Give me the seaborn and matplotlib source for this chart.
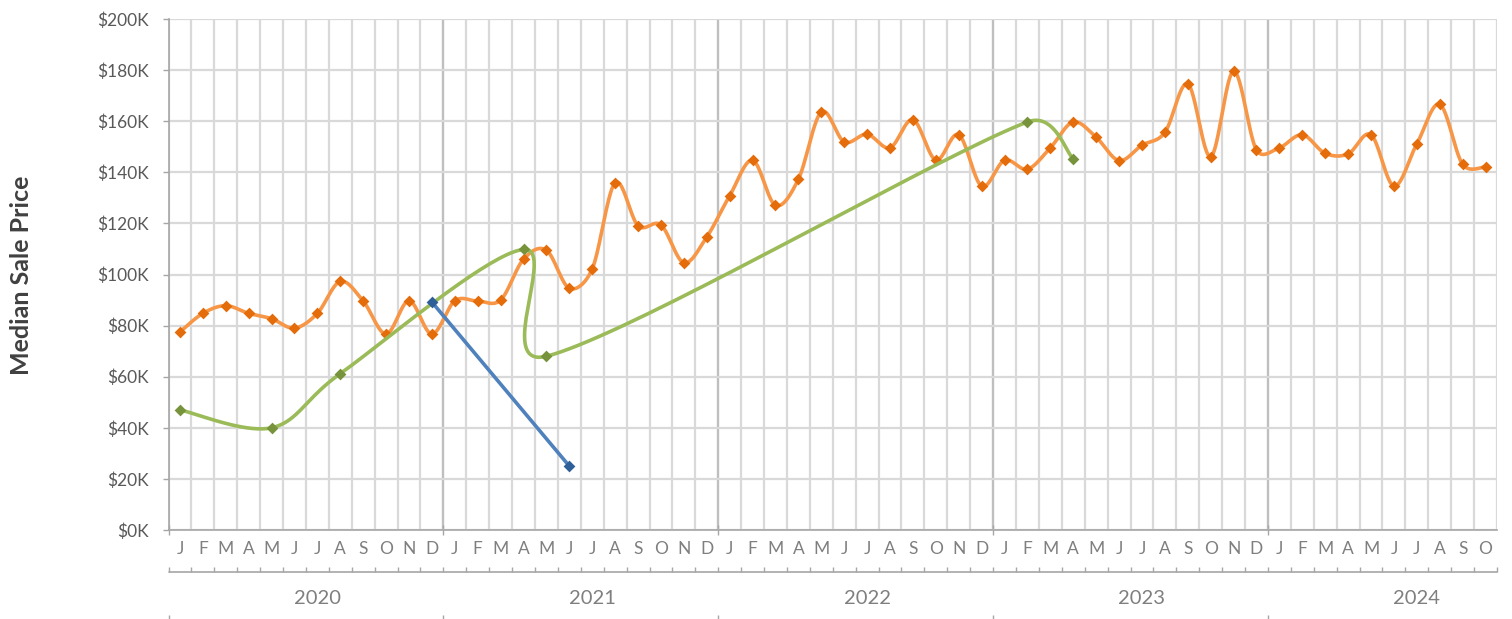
import numpy as np
import matplotlib
matplotlib.use('Agg')
import matplotlib.pyplot as plt
import seaborn as sns

# Data: monthly median sale price (in $K), Jan 2020 - Oct 2024
months = ['J', 'F', 'M', 'A', 'M', 'J', 'J', 'A', 'S', 'O', 'N', 'D'] * 4 + \
         ['J', 'F', 'M', 'A', 'M', 'J', 'J', 'A', 'S', 'O']
years = ['2020', '2021', '2022', '2023', '2024']

orange = [77.5, 84.8, 87.8, 84.8, 82.7, 79.0, 84.8, 97.3, 89.6, 76.7, 89.7, 76.7,
          89.7, 89.6, 90.0, 106.0, 109.5, 94.6, 102.2, 135.9, 119.1, 119.4, 104.6, 114.7,
          130.8, 144.7, 127.1, 137.3, 163.6, 151.9, 154.9, 149.6, 160.6, 144.8, 154.7, 134.6,
          144.7, 141.2, 149.6, 159.7, 153.7, 144.6, 150.6, 155.6, 174.6, 146.1, 179.6, 148.7,
          149.6, 154.7, 147.4, 147.2, 154.7, 134.6, 151.1, 166.6, 143.1, 142.1]

green = [None] * len(months)
green[0], green[4], green[7] = 47.0, 40.0, 61.2
green[15], green[16] = 109.8, 68.0
green[37], green[39] = 159.7, 145.3

blue = [None] * len(months)
blue[11], blue[17] = 89.2, 25.0

yticks = list(range(0, 201, 20))

sns.set_style('white')
plt.rcParams['font.family'] = ['Lato', 'DejaVu Sans']

fig = plt.figure(figsize=(15.12, 6.19), dpi=100)
ax = fig.add_axes([168.5 / 1512, 89 / 619, 1328.5 / 1512, 511 / 619])

n = len(months)
ax.set_xlim(-0.5, n - 0.5)
ax.set_ylim(0, 200)


def excel_smooth(ax, xs, ys, steps=40):
    # Excel-like smoothed line: bezier segments built in display space
    pts = ax.transData.transform(np.column_stack([xs, ys]))
    curve = [pts[0]]
    for i in range(len(pts) - 1):
        p0 = pts[i - 1] if i > 0 else pts[i]
        p1, p2 = pts[i], pts[i + 1]
        p3 = pts[i + 2] if i + 2 < len(pts) else pts[i + 1]
        d12 = np.hypot(*(p2 - p1))
        t1, t2 = p2 - p0, p3 - p1
        d02, d13 = np.hypot(*t1), np.hypot(*t2)
        f1 = 1 / 6 if d02 / 6 < d12 / 2 else d12 / (2 * d02)
        f2 = 1 / 6 if d13 / 6 < d12 / 2 else d12 / (2 * d13)
        c1 = p1 + f1 * t1
        c2 = p2 - f2 * t2
        t = np.linspace(0, 1, steps)[1:, None]
        seg = ((1 - t) ** 3) * p1 + 3 * t * (1 - t) ** 2 * c1 + 3 * t ** 2 * (1 - t) * c2 + t ** 3 * p2
        curve.extend(seg)
    curve = ax.transData.inverted().transform(np.array(curve))
    return curve[:, 0], curve[:, 1]


series = [(orange, '#F79646', '#E46C0A'),
          (green, '#9BBB59', '#77933C'),
          (blue, '#4F81BD', '#2F5F98')]

z = 3
for vals, line_c, mark_c in series:
    idx = np.array([i for i, v in enumerate(vals) if v is not None], dtype=float)
    v = np.array([v for v in vals if v is not None], dtype=float)
    cx, cy = excel_smooth(ax, idx, v)
    sns.lineplot(x=cx, y=cy, sort=False, estimator=None, color=line_c, lw=2.6,
                 ax=ax, zorder=z)
    sns.scatterplot(x=idx, y=v, marker='D', s=36, color=mark_c, linewidth=0,
                    ax=ax, zorder=z + 0.5)
    z += 1

# gridlines
for b in np.arange(n + 1) - 0.5:
    ax.axvline(b, color='#d9d9d9', lw=1.6, zorder=0)
year_bounds = np.arange(0, n, 12) - 0.5
for b in year_bounds[1:]:
    ax.axvline(b, color='#bfbfbf', lw=1.6, zorder=0.5)
ax.set_yticks(yticks)
ax.set_yticklabels([f'${t}K' for t in yticks])
ax.yaxis.grid(True, color='#d9d9d9', lw=1.6)
ax.set_axisbelow(True)

for s in ['top', 'right']:
    ax.spines[s].set_visible(False)
for s in ['left', 'bottom']:
    ax.spines[s].set_color('#a6a6a6')
    ax.spines[s].set_linewidth(1.2)

ax.tick_params(axis='y', direction='out', length=4.5, width=1, color='#a6a6a6',
               labelsize=12.5, labelcolor='#595959', pad=9.5, left=True)

# month letters (minor) and year boundary ticks (major)
ax.set_xticks(year_bounds)
ax.set_xticklabels([''] * len(year_bounds))
ax.set_xticks(np.arange(n), minor=True)
ax.set_xticklabels(months, minor=True)
ax.tick_params(axis='x', which='major', direction='inout', length=7, width=1,
               color='#a6a6a6', bottom=True)
ax.tick_params(axis='x', which='minor', length=0, labelsize=12.5,
               labelcolor='#7f7f7f', pad=8)

# year category row
trans = ax.get_xaxis_transform()
px = 1 / 511
y_br = -41.7 * px
ax.plot([-0.5, n - 0.5], [y_br, y_br], transform=trans, clip_on=False,
        color='#a6a6a6', lw=1.2)
ax.vlines(np.arange(n + 1) - 0.5, y_br, y_br + 4.5 * px, transform=trans,
          clip_on=False, color='#a6a6a6', lw=1)
ax.vlines(year_bounds, -85 * px, -90 * px, transform=trans, clip_on=False,
          color='#a6a6a6', lw=1)
for k, yr in enumerate(years):
    ax.text(k * 12 + 6, -68 * px, yr, transform=trans, ha='center', va='center',
            fontsize=14.5, color='#7f7f7f')

ax.set_xlabel('')
ax.set_ylabel('')
fig.text(21.7 / 1512, 1 - 275.5 / 619, 'Median Sale Price', rotation=90,
         ha='center', va='center', fontsize=18, fontweight='bold', color='#404040')

fig.savefig('out.png', dpi=100)
